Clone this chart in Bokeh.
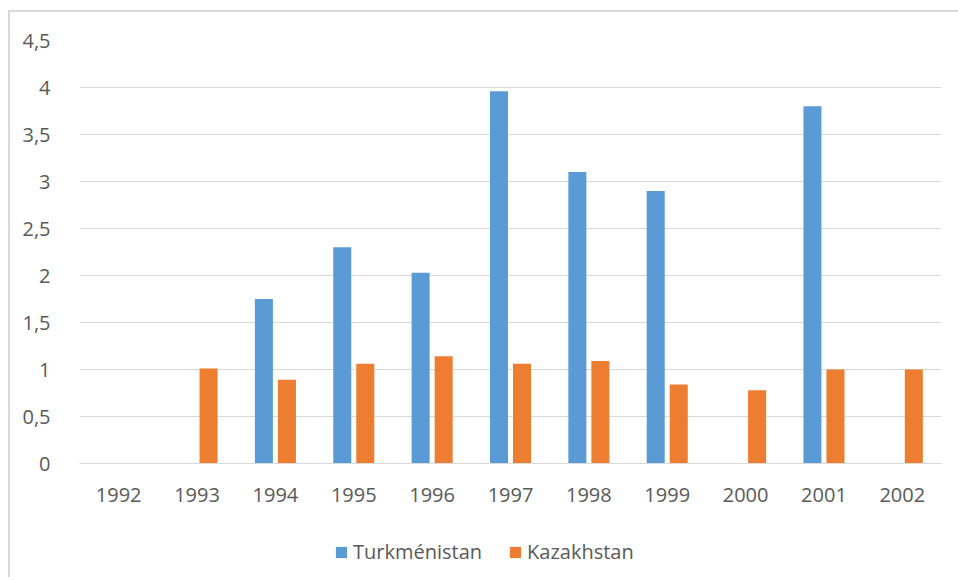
import math
from bokeh.plotting import figure
from bokeh.layouts import column
from bokeh.models import ColumnDataSource, FactorRange, Range1d, FixedTicker, Legend, LegendItem
from bokeh.transform import dodge
from bokeh.embed import file_html
from bokeh.resources import INLINE

NaN = float("nan")
years = ["1992", "1993", "1994", "1995", "1996", "1997", "1998", "1999", "2000", "2001", "2002"]
turkmenistan = [NaN, NaN, 1.75, 2.30, 2.03, 3.96, 3.10, 2.90, NaN, 3.80, NaN]
kazakhstan = [NaN, 1.01, 0.89, 1.06, 1.14, 1.06, 1.09, 0.84, 0.78, 1.00, 1.00]
y_ticks = [0, 0.5, 1, 1.5, 2, 2.5, 3, 3.5, 4, 4.5]
y_tick_labels = ["0", "0,5", "1", "1,5", "2", "2,5", "3", "3,5", "4", "4,5"]
series_names = ["Turkménistan", "Kazakhstan"]
colors = ["#5B9BD5", "#ED7D31"]

source = ColumnDataSource(dict(year=years, tm=turkmenistan, kz=kazakhstan))

FONT = "Open Sans"
TXT = "#595959"

p = figure(x_range=FactorRange(*years, range_padding=0), y_range=Range1d(0, 4.5),
           width=948, height=501, output_backend="svg", toolbar_location=None,
           min_border_left=69, min_border_right=17, min_border_top=28, min_border_bottom=50)
p.outline_line_color = None

r1 = p.vbar(x=dodge("year", -0.147, range=p.x_range), top="tm", width=0.23, source=source,
            fill_color=colors[0], line_color=None)
r2 = p.vbar(x=dodge("year", 0.147, range=p.x_range), top="kz", width=0.23, source=source,
            fill_color=colors[1], line_color=None)

p.yaxis.ticker = FixedTicker(ticks=y_ticks)
p.yaxis.major_label_overrides = {t: l for t, l in zip(y_ticks, y_tick_labels)}
p.yaxis.axis_line_color = None
p.yaxis.major_tick_line_color = None
p.yaxis.minor_tick_line_color = None
p.yaxis.major_label_standoff = 23
p.yaxis.major_label_text_font = FONT
p.yaxis.major_label_text_font_size = "20px"
p.yaxis.major_label_text_color = TXT

p.xaxis.axis_line_color = "#d9d9d9"
p.xaxis.major_tick_line_color = None
p.xaxis.minor_tick_line_color = None
p.xaxis.major_label_standoff = 18
p.xaxis.major_label_text_font = FONT
p.xaxis.major_label_text_font_size = "20px"
p.xaxis.major_label_text_color = TXT

p.xgrid.grid_line_color = None
p.ygrid.grid_line_color = "#d9d9d9"
p.ygrid.grid_line_width = 1

# legend strip
pl = figure(x_range=Range1d(0, 1), y_range=Range1d(0, 1), width=948, height=64,
            output_backend="svg", toolbar_location=None, x_axis_location=None, y_axis_location=None,
            min_border_left=0, min_border_right=0, min_border_top=0, min_border_bottom=0)
pl.grid.grid_line_color = None
pl.outline_line_color = None
hidden = ColumnDataSource(dict(x=[-10.0], top=[-10.0]))
l1 = pl.vbar(x="x", top="top", bottom=-11.0, width=0.1, source=hidden, fill_color=colors[0], line_color=None)
l2 = pl.vbar(x="x", top="top", bottom=-11.0, width=0.1, source=hidden, fill_color=colors[1], line_color=None)
legend = Legend(items=[LegendItem(label=series_names[0], renderers=[l1]),
                       LegendItem(label=series_names[1], renderers=[l2])],
                orientation="horizontal", location=(255, 12), padding=0, margin=0,
                spacing=26, label_standoff=5, glyph_width=14, glyph_height=14,
                border_line_color=None, background_fill_alpha=0,
                label_text_font=FONT, label_text_font_size="20px", label_text_color=TXT)
pl.add_layout(legend, "center")

layout = column(p, pl, spacing=0, margin=(10, 0, 0, 8),
                styles={"border-left": "2px solid #d9d9d9", "border-top": "2px solid #d9d9d9"})

open("out.html", "w").write(file_html(layout, INLINE))
